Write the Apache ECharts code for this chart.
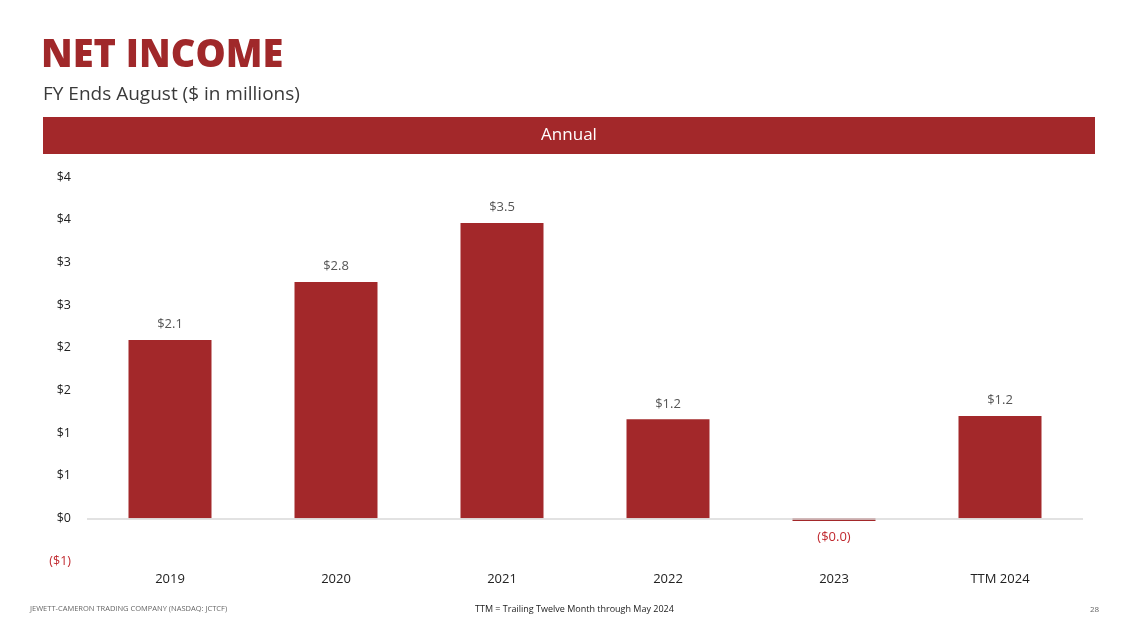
<!DOCTYPE html>
<html>
<head>
<meta charset="utf-8">
<script src="https://cdn.jsdelivr.net/npm/echarts@6/dist/echarts.min.js"></script>
<style>
html,body{margin:0;padding:0;background:#fff;}
#c{width:1139px;height:642px;}
</style>
</head>
<body>
<div id="c"></div>
<script>
const categories = ['2019', '2020', '2021', '2022', '2023', 'TTM 2024'];
const netIncome = [2.09, 2.77, 3.46, 1.16, -0.03, 1.2];
const yMin = -0.5, yMax = 4.0, yStep = 0.5;

const RED = '#A3282A';
const chart = echarts.init(document.getElementById('c'));

const fmtBar = v => v < 0 ? '($' + Math.abs(v).toFixed(1) + ')' : '$' + v.toFixed(1);
const fmtAxis = v => v < 0 ? '($' + Math.round(Math.abs(v)) + ')' : '$' + Math.round(v);

chart.setOption({
  backgroundColor: '#fff',
  animation: false,
  title: [{
    text: 'NET INCOME', left: 36, top: 32,
    textStyle: {fontFamily: 'Open Sans', fontWeight: 900, fontSize: 38, color: '#A0282A'}
  }, {
    text: 'FY Ends August ($ in millions)', left: 38, top: 80,
    textStyle: {fontFamily: 'Open Sans', fontWeight: 'normal', fontSize: 19, color: '#3a3a3a'}
  }],
  graphic: [
    {type: 'rect', shape: {x: 43, y: 117, width: 1052, height: 37}, style: {fill: RED}},
    {type: 'text', x: 569, y: 135.5, style: {text: 'Annual', fill: '#fff', fontSize: 17, fontFamily: 'Open Sans', align: 'center', verticalAlign: 'middle'}},
    {type: 'text', x: 30, y: 609, style: {text: 'JEWETT-CAMERON TRADING COMPANY (NASDAQ: JCTCF)', fill: '#666', fontSize: 7.5, fontFamily: 'Open Sans', verticalAlign: 'middle'}},
    {type: 'text', x: 475, y: 609, style: {text: 'TTM = Trailing Twelve Month through May 2024', fill: '#222', fontSize: 9, fontFamily: 'Open Sans', verticalAlign: 'middle'}},
    {type: 'text', x: 1090, y: 610, style: {text: '28', fill: '#666', fontSize: 8, fontFamily: 'Open Sans', verticalAlign: 'middle'}}
  ],
  grid: {left: 87, right: 56, top: 177, bottom: 81, containLabel: false},
  xAxis: {
    type: 'category', data: categories,
    axisLine: {show: false, onZero: false}, axisTick: {show: false},
    axisLabel: {color: '#222', fontSize: 13, fontFamily: 'Open Sans', margin: 12}
  },
  yAxis: {
    type: 'value', min: yMin, max: yMax, interval: yStep,
    splitLine: {show: false}, axisLine: {show: false}, axisTick: {show: false},
    axisLabel: {
      fontSize: 12.5, fontFamily: 'Open Sans', margin: 16, align: 'right',
      formatter: fmtAxis,
      color: v => (parseFloat(v) < 0 ? '#C0282E' : '#222')
    }
  },
  series: [{
    type: 'bar', barWidth: '50%',
    data: netIncome.map(v => ({
      value: v,
      label: v < 0 ? {position: 'bottom', color: '#C0282E', distance: 10} : {position: 'top', color: '#555', distance: 9}
    })),
    itemStyle: {color: RED},
    label: {show: true, fontSize: 13, fontFamily: 'Open Sans', formatter: p => fmtBar(p.value)},
    markLine: {
      silent: true, symbol: 'none', label: {show: false},
      lineStyle: {color: '#d9d9d9', width: 1.5, type: 'solid'},
      data: [{yAxis: 0}]
    },
    z: 3
  }]
});
</script>
</body>
</html>
